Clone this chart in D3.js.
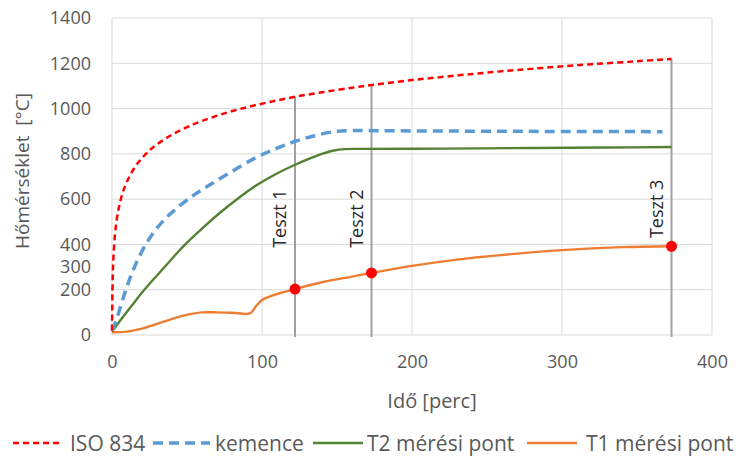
<!DOCTYPE html>
<html>
<head>
<meta charset="utf-8">
<script src="https://cdn.jsdelivr.net/npm/d3@7"></script>
<style>
body { margin: 0; background: #fff; }
text { font-family: "Open Sans", sans-serif; }
</style>
</head>
<body>
<div id="chart"></div>
<script>
var svgWidth = 736;
var svgHeight = 457;

var margin = { top: 18, left: 112, right: 24, bottom: 122 };
var width = svgWidth - margin.left - margin.right;
var height = svgHeight - margin.top - margin.bottom;

// ISO 834 standard curve
var isoTime = [0, 0.5, 1, 2, 3, 4, 5, 7, 10, 15, 20, 25, 30, 40, 50, 60, 75, 90, 105, 122, 140, 160, 173, 200, 230, 260, 290, 320, 350, 373];
var isoTemp = [20, 261, 349, 445, 502, 544, 576, 626, 678, 739, 781, 815, 842, 885, 918, 945, 979, 1006, 1029, 1052, 1072, 1092, 1104, 1126, 1146, 1165, 1181, 1196, 1209, 1219];

// kemence (furnace)
var furnaceTime = [0, 2, 5, 9, 14, 20, 27, 35, 45, 55, 65, 78, 95, 110, 122, 135, 148, 160, 180, 250, 300, 367];
var furnaceTemp = [20, 50, 110, 195, 285, 370, 446, 510, 570, 620, 662, 715, 780, 825, 855, 880, 898, 903, 902, 900, 899, 898];

// T2 mérési pont
var t2Time = [0, 5, 10, 15, 21, 30, 40, 48, 60, 72, 84, 96, 109, 122, 132, 140, 148, 155, 165, 220, 280, 330, 373];
var t2Temp = [15, 60, 103, 145, 195, 263, 337, 395, 470, 540, 603, 660, 710, 752, 780, 800, 815, 821, 822, 823, 826, 828, 830];

// T1 mérési pont
var t1Time = [0, 10, 20, 29, 44, 52, 60, 70, 80, 86, 90, 93, 96, 100, 105, 112, 122, 140, 160, 173, 200, 230, 259, 300, 340, 373];
var t1Temp = [12, 15, 28, 47, 79, 92, 100, 100, 98, 95, 93, 100, 128, 155, 170, 185, 203, 233, 258, 274, 305, 333, 353, 375, 388, 392];

// tests
var testTime = [122, 173, 373];
var testIso = [1052, 1104, 1219];
var testT1 = [203, 274, 392];
var testLabels = ["Teszt 1", "Teszt 2", "Teszt 3"];

var xTicks = [0, 100, 200, 300, 400];
var yTicks = [0, 200, 300, 400, 600, 800, 1000, 1200, 1400];
var yGrid = [0, 200, 400, 600, 800, 1000, 1200, 1400];

var seriesNames = ["ISO 834", "kemence", "T2 mérési pont", "T1 mérési pont"];
var seriesColors = ["#ff0000", "#5b9bd5", "#548235", "#ed7d31"];
var seriesDash = ["6,4", "10,6", null, null];
var seriesWidth = [2.5, 3.5, 2.4, 2.4];

var svg = d3.select("#chart").append("svg").attr("width", svgWidth).attr("height", svgHeight);
var chartGroup = svg.append("g").attr("transform", `translate(${margin.left},${margin.top})`);

var xLinearScale = d3.scaleLinear().domain([0, 400]).range([0, width]);
var yLinearScale = d3.scaleLinear().domain([0, 1400]).range([height, 0]);

// grid
chartGroup.append("g").selectAll("line").data(yGrid).enter().append("line")
    .attr("x1", 0).attr("x2", width)
    .attr("y1", d => yLinearScale(d)).attr("y2", d => yLinearScale(d))
    .attr("stroke", "#d9d9d9").attr("stroke-width", 1);
chartGroup.append("g").selectAll("line").data(xTicks).enter().append("line")
    .attr("x1", d => xLinearScale(d)).attr("x2", d => xLinearScale(d))
    .attr("y1", 0).attr("y2", height)
    .attr("stroke", "#d9d9d9").attr("stroke-width", 1);

// axes (labels only)
var leftAxis = d3.axisLeft(yLinearScale).tickValues(yTicks).tickSize(0).tickPadding(21).tickFormat(d3.format("d"));
var bottomAxis = d3.axisBottom(xLinearScale).tickValues(xTicks).tickSize(0).tickPadding(20).tickFormat(d3.format("d"));

var yAxis = chartGroup.append("g").call(leftAxis);
var xAxis = chartGroup.append("g").attr("transform", `translate(0,${height})`).call(bottomAxis);
[xAxis, yAxis].forEach(function(ax) {
    ax.select(".domain").remove();
    ax.selectAll("text").attr("fill", "#595959").style("font-size", "18px").style("font-family", "'Open Sans', sans-serif");
});

// axis titles
chartGroup.append("text")
    .attr("x", 320).attr("y", height + 65)
    .attr("text-anchor", "middle").attr("dominant-baseline", "central")
    .attr("fill", "#595959").style("font-size", "20px")
    .text("Idő [perc]");
chartGroup.append("text")
    .attr("transform", `translate(${22 - margin.left},${153}) rotate(-90)`)
    .attr("text-anchor", "middle").attr("dominant-baseline", "central")
    .attr("fill", "#595959").style("font-size", "19px")
    .style("white-space", "pre")
    .text("Hőmérséklet  [°C]");

// test vertical lines
chartGroup.append("g").selectAll("line").data(testTime).enter().append("line")
    .attr("x1", d => xLinearScale(d)).attr("x2", d => xLinearScale(d))
    .attr("y1", (d, i) => yLinearScale(testIso[i]))
    .attr("y2", height + 2)
    .attr("stroke", "#a0a0a0").attr("stroke-width", 2);

// series
var allTimes = [isoTime, furnaceTime, t2Time, t1Time];
var allTemps = [isoTemp, furnaceTemp, t2Temp, t1Temp];
var line = d3.line().x(d => xLinearScale(d[0])).y(d => yLinearScale(d[1])).curve(d3.curveCatmullRom.alpha(0.5));

for (var s = 3; s >= 0; s--) {
    var pts = allTimes[s].map((t, i) => [t, allTemps[s][i]]);
    chartGroup.append("path").datum(pts)
        .attr("d", line)
        .attr("fill", "none")
        .attr("stroke", seriesColors[s])
        .attr("stroke-width", seriesWidth[s])
        .attr("stroke-dasharray", seriesDash[s]);
}

// test dots
chartGroup.append("g").selectAll("circle").data(testTime).enter().append("circle")
    .attr("cx", d => xLinearScale(d))
    .attr("cy", (d, i) => yLinearScale(testT1[i]))
    .attr("r", 5.5).attr("fill", "#ff0000");

// test labels
chartGroup.append("g").selectAll("text").data(testTime).enter().append("text")
    .attr("transform", (d, i) => `translate(${xLinearScale(d) - 16},${yLinearScale(Math.max(385, testT1[i] + 36))}) rotate(-90)`)
    .attr("text-anchor", "start").attr("dominant-baseline", "central")
    .attr("fill", "#262626").style("font-size", "18px")
    .text((d, i) => testLabels[i]);

// legend
var legendLineX = [13, 153, 313, 527];
var legendLineLen = [50, 57, 50, 50];
var legendTextX = [70, 215, 367, 586];
var legend = svg.append("g").attr("transform", "translate(0,443)");
seriesNames.forEach(function(name, i) {
    legend.append("line")
        .attr("x1", legendLineX[i]).attr("x2", legendLineX[i] + legendLineLen[i]).attr("y1", 0).attr("y2", 0)
        .attr("stroke", seriesColors[i])
        .attr("stroke-width", seriesWidth[i])
        .attr("stroke-dasharray", seriesDash[i]);
    legend.append("text")
        .attr("x", legendTextX[i]).attr("y", 0)
        .attr("dominant-baseline", "central")
        .attr("fill", "#595959").style("font-size", "21px")
        .text(name);
});
</script>
</body>
</html>
